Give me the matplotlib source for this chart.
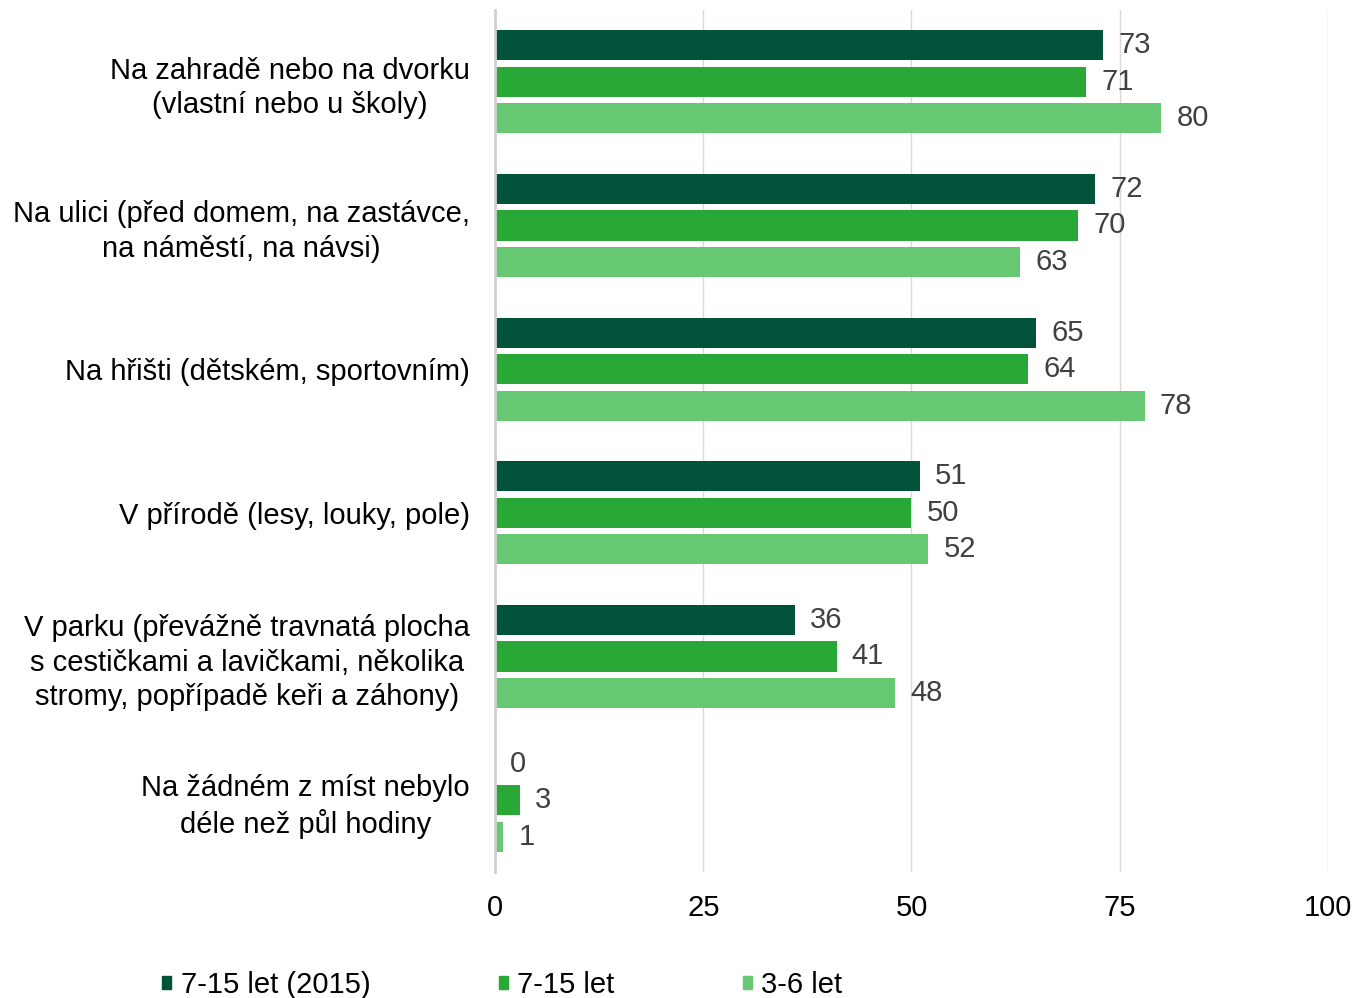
import numpy as np
import matplotlib
matplotlib.use("Agg")
import matplotlib.pyplot as plt
from matplotlib.patches import Patch

plt.rcParams['font.family'] = ['Liberation Sans', 'DejaVu Sans']

categories = [
    "Na zahradě nebo na dvorku\n(vlastní nebo u školy)",
    "Na ulici (před domem, na zastávce,\nna náměstí, na návsi)",
    "Na hřišti (dětském, sportovním)",
    "V přírodě (lesy, louky, pole)",
    "V parku (převážně travnatá plocha\ns cestičkami a lavičkami, několika\nstromy, popřípadě keři a záhony)",
    "Na žádném z míst nebylo\ndéle než půl hodiny",
]
series_names = ["7-15 let (2015)", "7-15 let", "3-6 let"]
vals_2015 = [73, 72, 65, 51, 36, 0]
vals_715 = [71, 70, 64, 50, 41, 3]
vals_36 = [80, 63, 78, 52, 48, 1]
colors = ["#00533A", "#29A737", "#66C873"]

fig = plt.figure(figsize=(13.57, 9.98), dpi=100)
ax = fig.add_axes([0.3648, 0.1263, 0.6138, 0.8637])

y = np.arange(len(categories))
slot = 0.254
barh_h = 0.21
for i, (vals, col) in enumerate(zip([vals_2015, vals_715, vals_36], colors)):
    pos = y + (i - 1) * slot
    ax.barh(pos, vals, height=barh_h, color=col, zorder=2)
    for p, v in zip(pos, vals):
        ax.annotate(str(v), (v, p), xytext=(11, 0), textcoords='offset points',
                    ha='left', va='center', fontsize=21, color='#404040')

ax.set_ylim(len(categories) - 0.5, -0.5)
ax.set_xlim(0, 100)
ax.set_xticks([0, 25, 50, 75, 100])
ax.tick_params(axis='x', length=0, pad=16, labelsize=21)
ax.tick_params(axis='y', length=0, pad=18)
ax.set_yticks(y)
ax.set_yticklabels(categories, fontsize=21, multialignment='center', linespacing=1.28)
ax.grid(axis='x', color='#D9D9D9', linewidth=1, zorder=0)
for s in ['top', 'right', 'bottom']:
    ax.spines[s].set_visible(False)
ax.spines['left'].set_color('#D0D0D0')
ax.spines['left'].set_linewidth(2)
ax.spines['left'].set_zorder(3)

handles = [Patch(color=c) for c in colors]
fig.legend(handles, series_names, loc='lower left', bbox_to_anchor=(0.100, -0.027),
           ncol=3, frameon=False, fontsize=21, handlelength=0.32, handleheight=0.32,
           handletextpad=0.32, columnspacing=4.4)

fig.savefig("out.png", dpi=100)
